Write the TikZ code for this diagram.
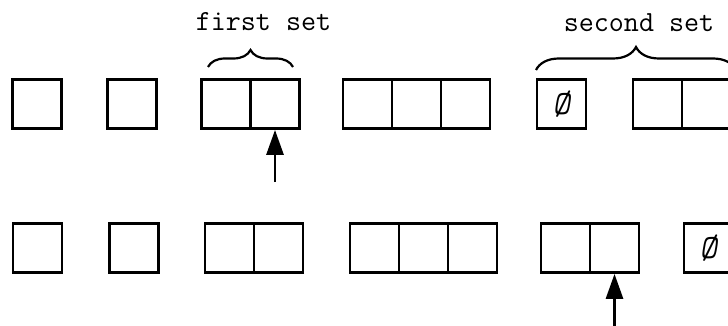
\documentclass[tikz,border=0pt]{standalone}
\usepackage{fontspec}
\usetikzlibrary{arrows.meta,decorations.pathreplacing}
\tikzset{
  cell/.style={draw, line width=1.4pt, minimum width=24.5pt, minimum height=24.5pt, inner sep=0pt, font=\ttfamily\slshape\fontsize{17}{17}\selectfont},
  lbl/.style={font=\ttfamily\fontsize{14.6}{15}\selectfont, inner sep=0pt},
  ptr/.style={line width=1.4pt, -{Triangle[length=12.5pt,width=8.5pt]}},
  setbrace/.style={decorate, decoration={brace, amplitude=#1}, line width=1.1pt}
}
\begin{document}
\begin{tikzpicture}[x=0.5pt,y=-0.5pt]
\useasboundingbox (0,0) rectangle (728,326);
% row 1
\node[cell] (a1) at (37,104) {};
\node[cell] (a2) at (132,104) {};
\node[cell] (a3) at (226,104) {};
\node[cell] (a4) at (275,104) {};
\node[cell] (a5) at (367.5,104) {};
\node[cell] (a6) at (416.5,104) {};
\node[cell] (a7) at (465.5,104) {};
\node[cell] (a8) at (561.5,104) {Ø};
\node[cell] (a9) at (657.5,104) {};
\node[cell] (a10) at (706.5,104) {};
% row 2
\node[cell] (b1) at (37.5,248) {};
\node[cell] (b2) at (134,248) {};
\node[cell] (b3) at (229.5,248) {};
\node[cell] (b4) at (278.5,248) {};
\node[cell] (b5) at (374.5,248) {};
\node[cell] (b6) at (423.5,248) {};
\node[cell] (b7) at (472.5,248) {};
\node[cell] (b8) at (565.5,248) {};
\node[cell] (b9) at (614.5,248) {};
\node[cell] (b10) at (708.5,248) {Ø};
% labels
\node[lbl] (first) at (263.5,22) {first set};
\node[lbl] (second) at (639,23) {second set};
% braces
\coordinate (f1) at (208,67);
\coordinate (f2) at (293,67);
\coordinate (s1) at (536,70);
\coordinate (s2) at (736,70);
\draw[setbrace=8.5pt] (f1) -- (f2);
\draw[setbrace=11.5pt] (s1) -- (s2);
% pointers
\coordinate (p1) at (275,182);
\coordinate (p2) at (614.5,332);
\draw[ptr] (p1) -- (a4.south);
\draw[ptr] (p2) -- (b9.south);
\end{tikzpicture}
\end{document}
